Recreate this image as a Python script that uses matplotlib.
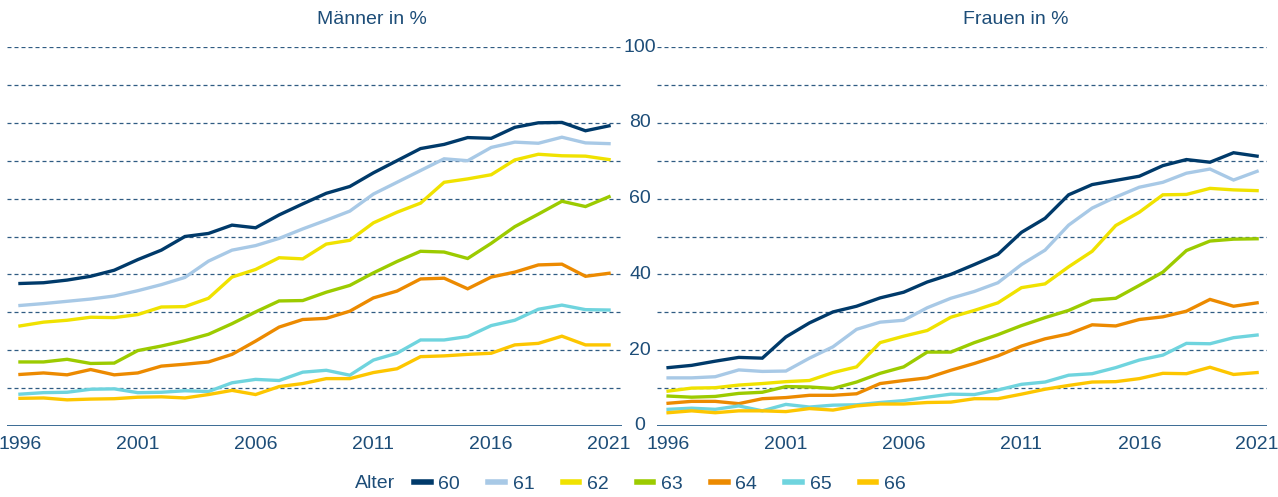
import matplotlib.pyplot as plt
from matplotlib.lines import Line2D

years = list(range(1996, 2022))
ages = ["60", "61", "62", "63", "64", "65", "66"]
colors = ["#003a6a", "#a8c9e6", "#f0e200", "#9ccb00", "#ec8a00", "#6fd4de", "#fdc600"]

men_60 = [37.6, 37.8, 38.5, 39.5, 41.1, 43.9, 46.4, 50.0, 50.8, 53.0, 52.3, 55.7, 58.6,
          61.4, 63.2, 66.8, 70.0, 73.2, 74.3, 76.1, 75.9, 78.8, 80.0, 80.1, 77.9, 79.2]
men_61 = [31.8, 32.3, 32.9, 33.5, 34.3, 35.7, 37.3, 39.2, 43.5, 46.4, 47.6, 49.5, 52.0,
          54.3, 56.7, 61.2, 64.3, 67.4, 70.5, 70.0, 73.5, 74.9, 74.6, 76.2, 74.7, 74.5]
men_62 = [26.4, 27.4, 27.9, 28.7, 28.6, 29.4, 31.4, 31.5, 33.7, 39.3, 41.3, 44.4, 44.1,
          48.0, 49.0, 53.6, 56.4, 58.8, 64.3, 65.2, 66.3, 70.2, 71.7, 71.3, 71.2, 70.3]
men_63 = [16.9, 16.9, 17.6, 16.5, 16.6, 19.9, 21.1, 22.5, 24.2, 27.0, 30.1, 33.0, 33.1,
          35.3, 37.1, 40.4, 43.4, 46.1, 45.9, 44.2, 48.2, 52.6, 55.9, 59.3, 57.9, 60.5]
men_64 = [13.6, 14.0, 13.5, 14.9, 13.5, 14.0, 15.8, 16.3, 16.9, 18.9, 22.4, 26.1, 28.1,
          28.4, 30.3, 33.8, 35.6, 38.8, 39.0, 36.2, 39.3, 40.6, 42.5, 42.7, 39.5, 40.3]
men_65 = [8.4, 8.8, 8.9, 9.7, 9.8, 8.8, 8.9, 9.3, 9.1, 11.4, 12.3, 12.0, 14.2,
          14.7, 13.4, 17.4, 19.2, 22.7, 22.7, 23.6, 26.5, 27.9, 30.8, 31.9, 30.7, 30.6]
men_66 = [7.3, 7.4, 6.9, 7.1, 7.2, 7.6, 7.7, 7.4, 8.3, 9.4, 8.3, 10.4, 11.2,
          12.5, 12.5, 14.1, 15.1, 18.3, 18.5, 18.9, 19.2, 21.4, 21.8, 23.7, 21.4, 21.4]

women_60 = [15.4, 16.0, 17.1, 18.1, 17.9, 23.5, 27.2, 30.1, 31.6, 33.8, 35.3, 38.0, 40.0,
            42.6, 45.3, 51.1, 54.8, 61.0, 63.7, 64.8, 65.9, 68.7, 70.3, 69.6, 72.1, 71.2]
women_61 = [12.7, 12.7, 13.0, 14.8, 14.4, 14.5, 17.9, 20.9, 25.5, 27.4, 27.9, 31.2, 33.7,
            35.5, 37.8, 42.6, 46.4, 53.0, 57.5, 60.4, 63.0, 64.3, 66.7, 67.8, 64.9, 67.2]
women_62 = [9.2, 10.0, 10.1, 10.8, 11.2, 11.7, 12.0, 14.1, 15.6, 22.0, 23.7, 25.2, 28.7,
            30.5, 32.5, 36.5, 37.5, 42.0, 46.1, 52.9, 56.4, 61.0, 61.1, 62.7, 62.3, 62.1]
women_63 = [7.9, 7.6, 7.8, 8.6, 8.9, 10.4, 10.3, 9.9, 11.6, 13.9, 15.6, 19.5, 19.5,
            22.0, 24.1, 26.5, 28.6, 30.5, 33.2, 33.7, 37.1, 40.6, 46.3, 48.8, 49.3, 49.4]
women_64 = [6.0, 6.5, 6.5, 5.9, 7.2, 7.5, 8.1, 8.1, 8.5, 11.2, 12.0, 12.7, 14.7,
            16.5, 18.5, 21.1, 23.0, 24.3, 26.7, 26.4, 28.1, 28.8, 30.3, 33.4, 31.6, 32.5]
women_65 = [4.4, 4.7, 4.4, 5.3, 4.0, 5.7, 5.0, 5.5, 5.6, 6.2, 6.7, 7.6, 8.4,
            8.3, 9.5, 11.0, 11.6, 13.4, 13.8, 15.4, 17.4, 18.7, 21.8, 21.7, 23.3, 24.0]
women_66 = [3.5, 4.0, 3.5, 4.0, 4.0, 3.8, 4.6, 4.2, 5.3, 5.8, 5.8, 6.2, 6.3,
            7.2, 7.2, 8.4, 9.7, 10.7, 11.6, 11.7, 12.5, 13.9, 13.8, 15.5, 13.6, 14.1]

men = [men_60, men_61, men_62, men_63, men_64, men_65, men_66]
women = [women_60, women_61, women_62, women_63, women_64, women_65, women_66]

xticks = [1996, 2001, 2006, 2011, 2016, 2021]
ylabels = [0, 20, 40, 60, 80, 100]
grid_vals = [10, 20, 30, 40, 50, 60, 70, 80, 90, 100]

txt = "#1d4d78"
plt.rcParams['font.family'] = ['Liberation Sans', 'DejaVu Sans']

W, H = 1278, 497
fig = plt.figure(figsize=(W / 100, H / 100), dpi=100)
bottom = 1 - 426 / H
height = 379 / H
ax1 = fig.add_axes([7 / W, bottom, 615 / W, height])
ax2 = fig.add_axes([657 / W, bottom, 610 / W, height])

for ax, data, xl in [(ax1, men, (1995.45, 2021.55)), (ax2, women, (1995.53, 2021.42))]:
    for g in grid_vals:
        ax.axhline(g, color="#2f5b82", lw=0.9, ls=(0, (3.2, 2.4)), zorder=1)
    ax.axhline(0, color="#3a6a94", lw=1.4, zorder=1)
    for vals, c in zip(data, colors):
        ax.plot(years, vals, color=c, lw=2.4, solid_joinstyle="miter", zorder=3)
    ax.set_xlim(*xl)
    ax.set_ylim(0, 100)
    ax.set_xticks(xticks)
    ax.set_xticklabels([str(x) for x in xticks])
    ax.tick_params(axis="x", length=0, pad=7, labelsize=14, labelcolor=txt)
    ax.set_yticks([])
    for s in ax.spines.values():
        s.set_visible(False)
    ax.set_clip_on(False)

for v in ylabels:
    y = bottom + height * v / 100
    fig.text(640 / W, y, str(v), ha="center", va="center", fontsize=14, color=txt)

fig.text(372 / W, 1 - 20 / H, "Männer in %", ha="center", va="center", fontsize=14, color=txt)
fig.text(1016 / W, 1 - 20 / H, "Frauen in %", ha="center", va="center", fontsize=14, color=txt)

# legend
fig.text(355 / W, 1 - 484 / H, "Alter", ha="left", va="center", fontsize=14, color=txt)
handles = [Line2D([], [], color=c, lw=4) for c in colors]
fig.legend(handles, ages, loc="center left", bbox_to_anchor=(414 / W, 1 - 484 / H),
           ncol=7, frameon=False, fontsize=14, handlelength=0.85, handletextpad=0.4,
           columnspacing=1.45, labelcolor=txt, borderaxespad=0, borderpad=0)

fig.savefig("out.png", dpi=100)
